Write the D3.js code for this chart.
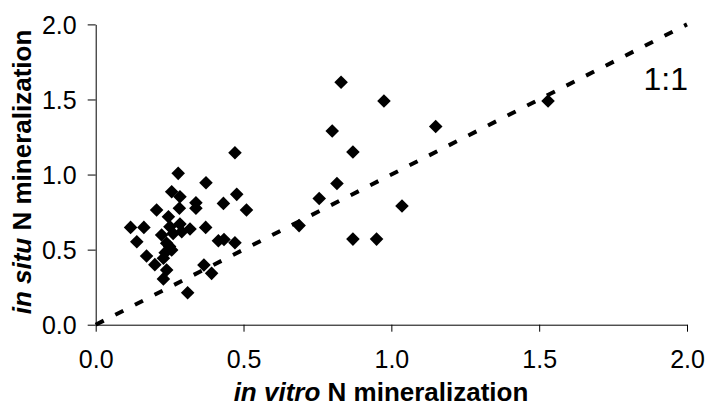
<!DOCTYPE html>
<html>
<head>
<meta charset="utf-8">
<script src="https://cdn.jsdelivr.net/npm/d3@7"></script>
<style>
  html, body { margin: 0; padding: 0; background: #fff; }
  svg { display: block; }
  text { font-family: "Liberation Sans", Arial, sans-serif; fill: #000; }
</style>
</head>
<body>
<svg id="chart" width="707" height="408"></svg>
<script>
// in vitro N mineralization (x) and in situ N mineralization (y)
const inVitro = [1.53, 1.15, 1.036, 0.975, 0.83, 0.80, 0.87, 0.816, 0.756, 0.688, 0.87, 0.95,
  0.471, 0.279, 0.373, 0.257, 0.285, 0.477, 0.339, 0.339, 0.432, 0.283, 0.51, 0.206,
  0.246, 0.118, 0.163, 0.285, 0.319, 0.291, 0.372, 0.223, 0.251, 0.139, 0.415, 0.434,
  0.471, 0.257, 0.24, 0.172, 0.229, 0.2, 0.366, 0.24, 0.392, 0.229, 0.311, 0.262, 0.25, 0.235];
const inSitu = [1.49, 1.32, 0.79, 1.49, 1.615, 1.29, 1.15, 0.94, 0.84, 0.66, 0.57, 0.57,
  1.145, 1.008, 0.945, 0.886, 0.852, 0.868, 0.812, 0.775, 0.808, 0.775, 0.764, 0.764,
  0.719, 0.648, 0.648, 0.670, 0.637, 0.619, 0.648, 0.597, 0.652, 0.552, 0.559, 0.568,
  0.546, 0.497, 0.542, 0.457, 0.442, 0.40, 0.397, 0.364, 0.342, 0.305, 0.213, 0.608, 0.52, 0.48];
const xTicks = [0, 0.5, 1.0, 1.5, 2.0];
const yTicks = [0, 0.5, 1.0, 1.5, 2.0];
const refLine = [[0, 0], [2, 2]];

const svg = d3.select("#chart");
const x = d3.scaleLinear().domain([0, 2]).range([95.7, 687]);
const y = d3.scaleLinear().domain([0, 2]).range([324.7, 24.4]);

// axes
const xAxis = d3.axisBottom(x).tickValues(xTicks).tickFormat(d3.format(".1f"))
  .tickSizeInner(7).tickSizeOuter(0).tickPadding(19);
const yAxis = d3.axisLeft(y).tickValues(yTicks).tickFormat(d3.format(".1f"))
  .tickSizeInner(8).tickSizeOuter(0).tickPadding(11);

const gx = svg.append("g").attr("transform", `translate(0,${y(0)})`).call(xAxis);
const gy = svg.append("g").attr("transform", `translate(${x(0)},0)`).call(yAxis);
[gx, gy].forEach(g => {
  g.select(".domain").attr("stroke", "#000").attr("stroke-width", 1);
  g.selectAll(".tick line").attr("stroke", "#000").attr("stroke-width", 1);
  g.selectAll(".tick text").attr("font-size", 25).attr("font-family", "'Liberation Sans', Arial, sans-serif").attr("fill", "#000");
});
gx.selectAll(".tick text").attr("dy", "0.71em");
gy.selectAll(".tick text").attr("dy", "0.35em");

// 1:1 line
svg.append("path")
  .datum(refLine)
  .attr("d", d3.line().x(d => x(d[0])).y(d => y(d[1])))
  .attr("fill", "none")
  .attr("stroke", "#000")
  .attr("stroke-width", 4)
  .attr("stroke-dasharray", "9,13");

// points
const sym = d3.symbol().type(d3.symbolSquare).size(92);
svg.append("g").selectAll("path")
  .data(inVitro.map((v, i) => [v, inSitu[i]]))
  .join("path")
  .attr("d", sym)
  .attr("transform", d => `translate(${x(d[0])},${y(d[1])}) rotate(45)`)
  .attr("fill", "#000");

// 1:1 label
svg.append("text")
  .attr("x", 688).attr("y", 90)
  .attr("text-anchor", "end")
  .attr("font-size", 32)
  .text("1:1");

// axis titles
const xt = svg.append("text")
  .attr("x", 381).attr("y", 401)
  .attr("text-anchor", "middle")
  .attr("font-size", 26).attr("font-weight", "bold");
xt.append("tspan").attr("font-style", "italic").text("in vitro");
xt.append("tspan").text(" N mineralization");

const yt = svg.append("text")
  .attr("transform", "translate(31,172) rotate(-90)")
  .attr("text-anchor", "middle")
  .attr("font-size", 26).attr("font-weight", "bold");
yt.append("tspan").attr("font-style", "italic").text("in situ");
yt.append("tspan").text(" N mineralization");
</script>
</body>
</html>
